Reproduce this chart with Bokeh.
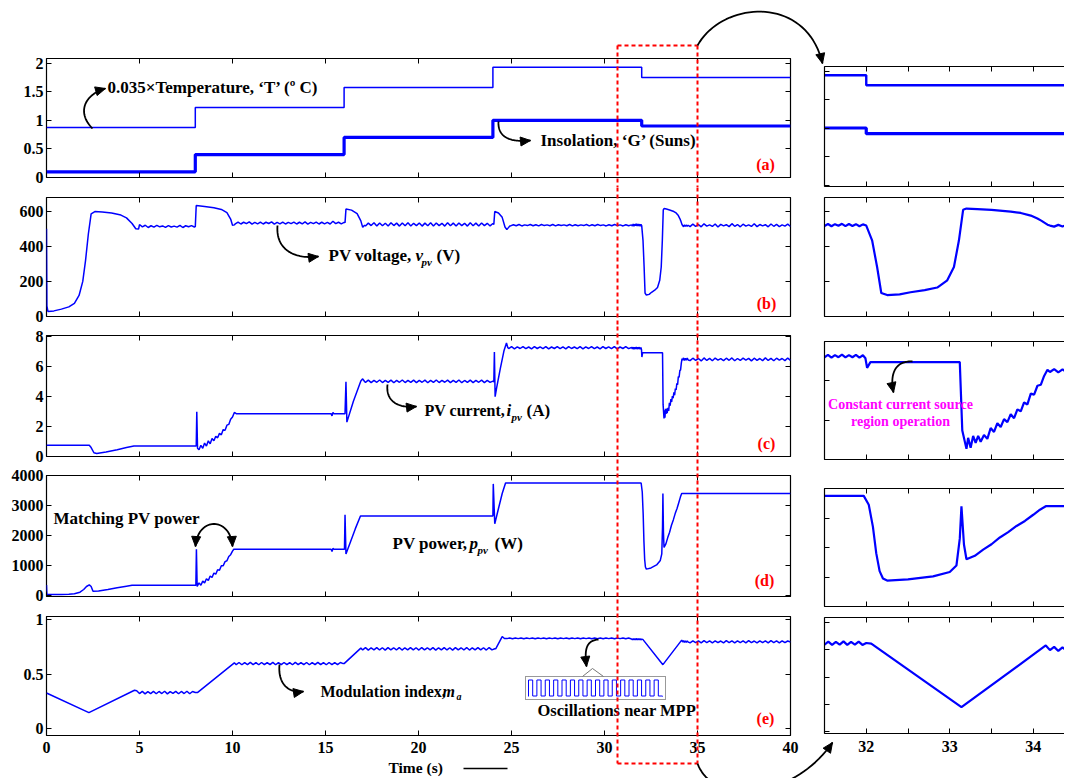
import numpy as np
from bokeh.plotting import figure
from bokeh.layouts import row, column
from bokeh.models import Range1d, LinearAxis, FixedTicker, Label
from bokeh.core.properties import value
from bokeh.embed import file_html
from bokeh.resources import INLINE

BLUE = "#0000FF"
SERIF = "Liberation Serif"

# ------------------------------------------------------------------ data
# (a) step inputs
t_steps = [0, 8, 16, 24, 32, 40]
temperature_C = [25, 35, 45, 55, 50]
insolation_suns = [0.1, 0.4, 0.7, 1.0, 0.9]
temp_scale = 0.035

# (b) PV voltage (V)
v_t1 = [0.0, 0.02, 0.08, 0.4, 0.8, 1.2, 1.5, 1.75, 1.95, 2.1, 2.25, 2.4, 2.6, 3.0, 3.5, 4.0, 4.3, 4.6, 4.8, 4.95]
v_1 = [500, 60, 28, 32, 42, 55, 75, 120, 200, 320, 470, 585, 598, 596, 590, 578, 562, 530, 500, 498]
v_r1 = [524, 511, 520, 507, 517, 509, 519, 511, 516, 508, 518, 510, 515, 509, 519, 507, 517, 511, 518, 510]
v_t2 = [8.0, 8.05, 8.5, 9.0, 9.4, 9.7, 9.9, 10.0, 10.1]
v_2 = [512, 632, 627, 619, 610, 592, 555, 520, 522]
v_r2 = [528, 538, 527, 537, 529, 539, 526, 536, 528, 538, 527, 537, 530, 539, 526, 536, 528, 538, 527, 536,
        529, 538, 527, 537, 528, 539, 526, 536, 529, 538, 527, 537, 528, 536, 527, 543, 529, 537, 528, 536]
v_t3 = [16.05, 16.1, 16.4, 16.7, 16.9, 17.0, 17.1]
v_3 = [535, 612, 606, 586, 545, 508, 520]
v_r3 = [516, 532, 518, 534, 515, 533, 517, 531, 516, 534, 518, 532, 515, 533, 517, 534, 516, 531, 518, 533,
        515, 532, 517, 534, 516, 533, 518, 531, 515, 534, 517, 532, 516, 533, 518, 531, 515, 534, 517, 532,
        516, 533, 518, 531, 516, 530]
v_t4 = [24.05, 24.1, 24.3, 24.5, 24.65, 24.75, 24.9]
v_4 = [525, 598, 590, 565, 510, 495, 515]
v_r4 = [516, 523, 517, 524, 516, 522, 518, 524, 517, 523, 516, 524, 518, 522, 517, 524, 516, 523, 518, 522,
        517, 524, 516, 523, 517, 522, 518, 524, 516, 523, 517, 524, 518, 522, 516, 523, 517, 524, 518, 522,
        516, 523, 517, 522]
v_r5 = [516, 527, 514, 526, 517, 528, 515, 527, 516, 526, 514, 525]
v_t5 = [32.0, 32.07, 32.13, 32.18, 32.25, 32.4, 32.53, 32.7, 32.85, 32.97, 33.05, 33.11, 33.16, 33.2,
        33.33, 33.5, 33.73, 33.85, 33.97, 34.05, 34.1, 34.17]
v_5 = [518, 434, 282, 134, 122, 126, 138, 150, 165, 206, 282, 434, 608, 615, 612, 607, 598, 590, 575, 558, 545, 523]
v_r6 = [518, 512, 522, 513, 521, 514, 520]
v_r7 = [512, 526, 514, 524, 511, 528, 515, 522, 513, 527, 510, 525, 516, 523, 512, 529, 514, 524, 511, 526,
        515, 522, 513, 528, 512, 524, 516, 523, 511, 527, 514, 525, 512, 522, 515, 526, 513]

# (c) PV current (A)
i_t1 = [0.0, 2.3, 2.4, 2.55, 2.7, 3.2, 3.8, 4.3, 4.7, 8.05, 8.08, 8.12, 8.2, 8.3, 8.4, 8.5, 8.6, 8.7, 8.8,
        8.9, 9.0, 9.1, 9.2, 9.3, 9.4, 9.5, 9.6, 9.7, 9.8, 9.9, 10.0, 10.1, 10.2, 15.3, 15.35, 15.4, 15.45,
        16.05, 16.1, 16.15, 16.5, 16.9, 17.0, 17.1]
i_1 = [0.75, 0.75, 0.6, 0.25, 0.2, 0.3, 0.45, 0.6, 0.7, 0.7, 3.0, 0.55, 0.45, 0.75, 0.55, 0.9, 0.7, 1.05, 0.85,
       1.2, 1.05, 1.35, 1.25, 1.55, 1.45, 1.8, 1.75, 2.1, 2.15, 2.5, 2.65, 2.95, 2.87, 2.87, 2.72, 2.95, 2.87,
       2.87, 5.0, 2.3, 3.7, 5.05, 5.2, 5.02]
i_r1 = [4.96, 5.11, 4.95, 5.10, 4.97, 5.12, 4.95, 5.09, 4.96, 5.11, 4.94, 5.10, 4.97, 5.12, 4.95, 5.09, 4.96,
        5.11, 4.95, 5.10, 4.97, 5.11, 4.94, 5.10, 4.96, 5.12, 4.95, 5.09, 4.97, 5.11, 4.95, 5.10, 4.96, 5.12,
        4.94, 5.09, 4.96, 5.11, 4.95, 5.10, 4.97, 5.11, 4.95, 5.09, 4.96, 5.05]
i_t2 = [24.05, 24.08, 24.12, 24.2, 24.4, 24.6, 24.73, 24.8]
i_2 = [5.0, 7.0, 4.0, 4.6, 5.9, 7.1, 7.6, 7.3]
i_r2 = [7.22, 7.35, 7.21, 7.34, 7.23, 7.36, 7.22, 7.33, 7.21, 7.35, 7.23, 7.34, 7.22, 7.36, 7.21, 7.33, 7.23,
        7.35, 7.22, 7.34, 7.21, 7.36, 7.23, 7.33, 7.22, 7.35, 7.21, 7.34, 7.23, 7.36, 7.22, 7.33, 7.21, 7.35,
        7.23, 7.34, 7.22, 7.36, 7.21, 7.33, 7.23, 7.35, 7.22, 7.30]
i_r3 = [7.2, 7.32, 7.18, 7.31, 7.2, 7.33, 7.19, 7.31, 7.2, 7.32, 7.18, 7.3]
i_t3 = [31.99, 32.01, 32.05, 33.12, 33.15, 33.2, 33.22, 33.25, 33.28, 33.31, 33.34, 33.37, 33.41, 33.45,
        33.49, 33.53, 33.57, 33.61, 33.65, 33.69, 33.73, 33.77, 33.81, 33.85, 33.89, 33.93, 33.97, 34.01,
        34.05, 34.09, 34.13, 34.17]
i_3 = [7.15, 6.66, 6.95, 6.95, 3.47, 2.54, 3.1, 2.6, 3.2, 2.85, 3.2, 2.9, 3.25, 3.05, 3.6, 3.4, 3.85, 3.65,
       4.05, 3.9, 4.3, 4.1, 4.55, 4.45, 4.9, 4.8, 5.35, 5.3, 5.75, 5.8, 6.25, 6.56]
i_r4 = [6.45, 6.6, 6.43, 6.58, 6.44, 6.59, 6.46]
i_r5 = [6.42, 6.58, 6.44, 6.56, 6.40, 6.60, 6.43, 6.57, 6.41, 6.59, 6.45, 6.55, 6.42, 6.58, 6.44, 6.60, 6.41,
        6.56, 6.43, 6.59, 6.45, 6.57, 6.40, 6.58, 6.44, 6.56, 6.42, 6.60, 6.43, 6.57, 6.41, 6.58, 6.45, 6.56,
        6.42, 6.59, 6.44]

# (d) PV power (W)
p_t1 = [0.0, 0.02, 0.3, 0.8, 1.2, 1.5, 1.8, 2.0, 2.15, 2.3, 2.4, 2.5, 2.8, 3.3, 3.8, 4.3, 4.6, 8.03, 8.06, 8.1]
p_1 = [350, 40, 30, 35, 45, 60, 110, 200, 300, 355, 300, 140, 150, 200, 260, 310, 340, 340, 1540, 300]
p_t2 = [8.2, 8.3, 8.4, 8.5, 8.6, 8.7, 8.8, 8.9, 9.0, 9.1, 9.2, 9.3, 9.4, 9.5, 9.6, 9.7, 9.8, 9.9, 10.0, 10.07]
p_2 = [420, 340, 480, 420, 560, 500, 650, 600, 750, 710, 860, 840, 990, 990, 1130, 1160, 1300, 1360, 1480, 1540]
p_t3 = [15.3, 15.35, 15.4, 15.45, 16.02, 16.05, 16.1, 16.3, 16.6, 16.88, 24.0, 24.02, 24.1, 24.3, 24.5, 24.68,
        31.97, 32.03, 32.08, 32.12, 32.16, 32.2, 32.25, 32.5, 32.8, 33.0, 33.08, 33.12, 33.14, 33.17, 33.2]
p_3 = [1540, 1470, 1570, 1540, 1540, 2690, 1380, 1720, 2220, 2650, 2650, 3720, 2390, 2900, 3400, 3750,
       3750, 3450, 2700, 1800, 1200, 950, 880, 920, 1020, 1170, 1390, 2300, 3400, 2100, 1600]
p_t4 = [33.3, 33.4, 33.5, 33.6, 33.7, 33.8, 33.9, 34.0, 34.08, 34.15, 40.0]
p_4 = [1720, 1930, 2110, 2340, 2520, 2730, 2900, 3110, 3280, 3400, 3400]

# (e) modulation index
m_t1 = [0.0, 2.28, 4.73]
m_1 = [0.33, 0.15, 0.355]
m_r1 = [0.35, 0.325, 0.345, 0.322, 0.343, 0.325, 0.345, 0.323, 0.344, 0.325, 0.346, 0.322, 0.343, 0.326,
        0.345, 0.323, 0.344, 0.325, 0.346, 0.323, 0.344, 0.335]
m_t2 = [8.13, 10.1]
m_2 = [0.335, 0.607]
m_r2 = [0.590, 0.610, 0.589, 0.609, 0.591, 0.611, 0.590, 0.609, 0.589, 0.610, 0.591, 0.609, 0.590, 0.611,
        0.589, 0.609, 0.591, 0.610, 0.590, 0.609, 0.589, 0.611, 0.591, 0.609, 0.590, 0.610, 0.589, 0.609,
        0.591, 0.611, 0.590, 0.609, 0.589, 0.610, 0.591, 0.609, 0.590, 0.610, 0.600]
m_t3 = [16.0, 16.9]
m_3 = [0.6, 0.742]
m_r3 = [0.725, 0.746, 0.724, 0.745, 0.726, 0.747, 0.725, 0.745, 0.724, 0.746, 0.726, 0.745, 0.725, 0.747,
        0.724, 0.745, 0.726, 0.746, 0.725, 0.745, 0.724, 0.747, 0.726, 0.745, 0.725, 0.746, 0.724, 0.745,
        0.726, 0.747, 0.725, 0.745, 0.724, 0.746, 0.726, 0.745, 0.725, 0.747, 0.724, 0.745, 0.726, 0.746,
        0.725, 0.745, 0.724, 0.747, 0.726, 0.736]
m_t4 = [24.15, 24.5, 24.62]
m_4 = [0.735, 0.848, 0.83]
m_r4 = [0.829, 0.835, 0.828, 0.834, 0.829, 0.835, 0.828, 0.834, 0.829, 0.835, 0.828, 0.834, 0.829, 0.835,
        0.828, 0.834, 0.829, 0.835, 0.828, 0.834, 0.829, 0.835, 0.828, 0.834, 0.829, 0.835, 0.828, 0.834,
        0.829, 0.835, 0.828, 0.834, 0.829, 0.835, 0.828, 0.834, 0.829, 0.835, 0.828, 0.834, 0.829, 0.835,
        0.828, 0.834, 0.826]
m_r5 = [0.818, 0.829, 0.817, 0.828, 0.818, 0.830, 0.817, 0.828, 0.818, 0.829, 0.817, 0.824]
m_t5 = [32.06, 33.14, 34.15]
m_5 = [0.822, 0.59, 0.815]
m_r6 = [0.798, 0.81, 0.795, 0.808, 0.796, 0.807, 0.797]
m_r7 = [0.791, 0.809, 0.792, 0.808, 0.790, 0.810, 0.793, 0.808, 0.791, 0.809, 0.792, 0.807, 0.790, 0.810,
        0.793, 0.808, 0.791, 0.809, 0.792, 0.808, 0.790, 0.810, 0.793, 0.807, 0.791, 0.809, 0.792, 0.808,
        0.790, 0.810, 0.793, 0.808, 0.791, 0.809, 0.792, 0.807, 0.798]

# inset: magnified oscillation pattern (high/low states)
osc_pattern = [1, 0] * 16

# ------------------------------------------------------------------ assembly
def ripple(t0, t1, vals):
    return list(np.linspace(t0, t1, len(vals))), list(vals)


def join(*parts):
    t, y = [], []
    for pt, py in parts:
        t += list(pt)
        y += list(py)
    return t, y


v_t, v_y = join((v_t1, v_1), ripple(5.0, 7.95, v_r1), (v_t2, v_2), ripple(10.15, 16.0, v_r2), (v_t3, v_3),
                ripple(17.15, 24.0, v_r3), (v_t4, v_4), ripple(24.95, 31.45, v_r4), ripple(31.5, 31.96, v_r5),
                (v_t5, v_5), ripple(34.2, 34.5, v_r6), ripple(34.6, 40.0, v_r7))
i_t, i_y = join((i_t1, i_1), ripple(17.15, 24.0, i_r1), (i_t2, i_2), ripple(24.85, 31.45, i_r2),
                ripple(31.5, 31.96, i_r3), (i_t3, i_3), ripple(34.2, 34.5, i_r4), ripple(34.6, 40.0, i_r5))
p_t, p_y = join((p_t1, p_1), (p_t2, p_2), (p_t3, p_3), (p_t4, p_4))
m_t, m_y = join((m_t1, m_1), ripple(4.85, 8.0, m_r1), (m_t2, m_2), ripple(10.2, 15.95, m_r2), (m_t3, m_3),
                ripple(17.0, 24.1, m_r3), (m_t4, m_4), ripple(24.75, 31.45, m_r4), ripple(31.5, 32.0, m_r5),
                (m_t5, m_5), ripple(34.2, 34.5, m_r6), ripple(34.6, 40.0, m_r7))
T_vals = [temp_scale * v for v in temperature_C]


# ------------------------------------------------------------------ panels
class Panel:
    def __init__(self, x0, y0, w, h, bl, br, bt, bb, xr, yr, outline):
        self.x0, self.y0, self.w, self.h = x0, y0, w, h
        self.fx0, self.fx1 = x0 + bl, x0 + w - br
        self.fy0, self.fy1 = y0 + bt, y0 + h - bb
        self.xr, self.yr = xr, yr
        self.fig = figure(width=w, height=h, x_range=Range1d(*xr), y_range=Range1d(*yr),
                          output_backend="svg", toolbar_location=None,
                          x_axis_location=None, y_axis_location=None,
                          min_border_left=bl, min_border_right=br, min_border_top=bt, min_border_bottom=bb,
                          outline_line_color="black" if outline else None, outline_line_width=1.2,
                          background_fill_color="white", border_fill_color="white")
        self.fig.xgrid.visible = False
        self.fig.ygrid.visible = False

    def dx(self, px):
        return self.xr[0] + (np.asarray(px, float) - self.fx0) / (self.fx1 - self.fx0) * (self.xr[1] - self.xr[0])

    def dy(self, py):
        return self.yr[1] - (np.asarray(py, float) - self.fy0) / (self.fy1 - self.fy0) * (self.yr[1] - self.yr[0])


def add_axis(p, loc, ticks, minor, labels=False, overrides=None, line=False, standoff=3):
    ax = LinearAxis(ticker=FixedTicker(ticks=ticks, minor_ticks=minor))
    ax.major_tick_in = 5
    ax.major_tick_out = 0
    ax.minor_tick_in = 5
    ax.minor_tick_out = 0
    ax.major_tick_line_color = "black"
    ax.minor_tick_line_color = "black"
    ax.major_tick_line_width = 1
    ax.axis_line_color = "black" if line else None
    ax.axis_line_width = 1.2
    if labels:
        ax.major_label_text_font = SERIF
        ax.major_label_text_font_style = "bold"
        ax.major_label_text_font_size = "16px"
        ax.major_label_text_color = "black"
        ax.major_label_standoff = standoff
        if overrides:
            ax.major_label_overrides = overrides
    else:
        ax.major_label_text_color = None
        ax.major_label_text_font_size = "0px"
        ax.major_label_standoff = 0
    p.add_layout(ax, loc)


LX = (0, 40)
RX = (31.5, 34.374)
LXT = [0, 5, 10, 15, 20, 25, 30, 35, 40]
RXT = [32, 33, 34]
RXM = [31.5, 32.5, 33.5]
half_over = {0: "0", 0.5: "0.5", 1: "1", 1.5: "1.5", 2: "2"}

left_specs = [
    (0, 187, 58, 10, (0, 2.08), [0, 0.5, 1, 1.5, 2], half_over),
    (187, 139, 10, 10, (0, 678), [0, 200, 400, 600], None),
    (326, 140, 9, 10, (0, 8.1), [0, 2, 4, 6, 8], None),
    (466, 140, 9, 10, (-33, 4000), [0, 1000, 2000, 3000, 4000], None),
    (606, 172, 10, 43, (-0.06, 1.032), [0, 0.5, 1], half_over),
]
right_specs = [
    (0, 191, 66, 5, (-0.026, 2.079), [0, 0.5, 1, 1.5, 2]),
    (191, 137, 6, 12, (0, 678), [0, 200, 400, 600]),
    (328, 146, 13, 15, (2, 8), [2, 4, 6, 8]),
    (474, 138, 14, 6, (0, 4000), [0, 1000, 2000, 3000, 4000]),
    (612, 166, 5, 45, (0.494, 0.917), [0.5, 0.6, 0.7, 0.8, 0.9]),
]

L, R = [], []
for k, (y0, h, bt, bb, yr, yt, ov) in enumerate(left_specs):
    P = Panel(0, y0, 808, h, 46, 18, bt, bb, LX, yr, True)
    add_axis(P.fig, "left", yt, [], labels=True, overrides=ov, standoff=3)
    add_axis(P.fig, "below", LXT, [], labels=(k == 4), standoff=6)
    add_axis(P.fig, "above", LXT, [])
    add_axis(P.fig, "right", yt, [])
    L.append(P)
for k, (y0, h, bt, bb, yr, yt) in enumerate(right_specs):
    P = Panel(808, y0, 256, h, 16, 0, bt, bb, RX, yr, False)
    add_axis(P.fig, "left", yt, [], line=True)
    add_axis(P.fig, "below", RXT, RXM, labels=(k == 4), line=True, standoff=7)
    add_axis(P.fig, "above", RXT, RXM, line=True)
    R.append(P)

# ------------------------------------------------------------------ series
for P, lw in ((L[0], (1.5, 3.2)), (R[0], (2.4, 3.2))):
    P.fig.step(t_steps, T_vals + [T_vals[-1]], mode="after", line_color=BLUE, line_width=lw[0])
    P.fig.step(t_steps, insolation_suns + [insolation_suns[-1]], mode="after", line_color=BLUE, line_width=lw[1])
for k, (t, y) in enumerate([(v_t, v_y), (i_t, i_y), (p_t, p_y), (m_t, m_y)]):
    L[k + 1].fig.line(t, y, line_color=BLUE, line_width=1.5)
    R[k + 1].fig.line(t, y, line_color=BLUE, line_width=2.2)


# ------------------------------------------------------------------ annotations
def label(P, px, py, text, size="17px", color="black", style="bold", align="left"):
    P.fig.add_layout(Label(x=float(P.dx(px)), y=float(P.dy(py)), text=text, text_font=SERIF,
                           text_font_size=size, text_font_style=style, text_color=color,
                           text_align=align, text_baseline="middle"))


def free_text(P, px, py, text, size="17px"):
    P.fig.text(x=[float(P.dx(px))], y=[float(P.dy(py))], text=[text], text_font=value(SERIF),
               text_font_size=value(size), text_font_style="bold", text_color="black",
               text_align="left", text_baseline="middle", level="overlay")


def bez(pts, n=40):
    s = np.linspace(0, 1, n)[:, None]
    q = np.array(pts, float)
    c = (1 - s) ** 3 * q[0] + 3 * (1 - s) ** 2 * s * q[1] + 3 * (1 - s) * s ** 2 * q[2] + s ** 3 * q[3]
    return c[:, 0], c[:, 1]


def head(P, tip, frm, length=10, half=4.5):
    tip = np.array(tip, float)
    d = tip - np.array(frm, float)
    d /= np.hypot(*d)
    nrm = np.array([-d[1], d[0]])
    base = tip - length * d
    pts = [tip, base + half * nrm, base - half * nrm]
    P.fig.patch(P.dx([q[0] for q in pts]), P.dy([q[1] for q in pts]), fill_color="black",
                line_color="black", line_width=1, level="overlay")


def curve(P, pts, heads=("end",), width=1.8, color="black"):
    x, y = bez(pts)
    P.fig.line(P.dx(x), P.dy(y), line_color=color, line_width=width, level="overlay")
    if "end" in heads:
        head(P, pts[3], pts[2])
    if "start" in heads:
        head(P, pts[0], pts[1])


def seg(P, xs, ys, color="black", width=1.5, dash="solid"):
    P.fig.line(P.dx(xs), P.dy(ys), line_color=color, line_width=width, line_dash=dash, level="overlay")


# (a)
label(L[0], 107, 87, "0.035×Temperature, ‘T’ (º C)")
curve(L[0], [(92, 128), (76, 112), (84, 94), (105, 88)])
label(L[0], 540, 140, "Insolation, ‘G’ (Suns)")
curve(L[0], [(498, 121), (497, 137), (510, 142), (530, 140)])
# (b)
label(L[1], 328, 255, "PV voltage,")
label(L[1], 415, 255, "v", style="bold italic")
label(L[1], 421, 261, "pv", size="11px", style="bold italic")
label(L[1], 436, 255, "(V)")
curve(L[1], [(277, 225), (275, 250), (295, 259), (318, 256)])
# (c)
label(L[2], 424, 410, "PV current,", size="16px")
label(L[2], 506, 410, "i", style="bold italic")
label(L[2], 511, 416, "pv", size="11px", style="bold italic")
label(L[2], 526, 410, "(A)")
curve(L[2], [(387, 384), (385, 401), (398, 408), (416, 406)])
# (d)
label(L[3], 53, 518, "Matching PV power")
curve(L[3], [(195, 546), (197, 516), (230, 516), (232, 546)], heads=("start", "end"))
label(L[3], 392, 543, "PV power,")
label(L[3], 469, 543, "p", style="bold italic")
label(L[3], 477, 549, "pv", size="11px", style="bold italic")
label(L[3], 494, 543, "(W)")
# (e)
label(L[4], 320, 691, "Modulation index,", size="16px")
label(L[4], 442, 691, "m", size="16px", style="bold italic")
label(L[4], 456, 696, "a", size="10px", style="bold italic")
curve(L[4], [(279, 664), (277, 685), (290, 693), (303, 691)])
label(L[4], 537, 710, "Oscillations near MPP", size="16.5px")
curve(L[4], [(598, 639), (585, 640), (584, 650), (586, 666)])
# inset box with magnified oscillation
bx0, bx1, by0, by1 = 525, 665, 676, 699
seg(L[4], [bx0, bx1, bx1, bx0, bx0], [by0, by0, by1, by1, by0], color="#333333", width=1, dash="1 1")
seg(L[4], [582, 592, 603], [676, 668, 676], color="#777777", width=1)
per = (662 - 528) / (len(osc_pattern) / 2)
wx, wy = [528], [696]
for k, st in enumerate(osc_pattern):
    x0 = 528 + k * per / 2
    yv = 679.5 if st else 695.5
    wx += [x0, x0 + per / 2]
    wy += [yv, yv]
wx.append(662)
wy.append(696)
L[4].fig.line(L[4].dx(wx), L[4].dy(wy), line_color=BLUE, line_width=1)
# panel tags
for P, px, py, tag in ((L[0], 765, 164, "(a)"), (L[1], 766, 303, "(b)"), (L[2], 766, 443, "(c)"),
                       (L[3], 764, 580, "(d)"), (L[4], 765, 718, "(e)")):
    label(P, px, py, tag, size="16px", color="#FF0000", align="center")
# time label below the axis
free_text(L[4], 388, 767, "Time (s)", size="15.5px")
seg(L[4], [463, 507], [768, 768], width=1.5)
# right (c') annotation
label(R[2], 900, 404, "Constant current source", size="14px", color="#FF00FF", align="center")
label(R[2], 900, 421, "region operation", size="14px", color="#FF00FF", align="center")
curve(R[2], [(912, 361), (895, 360), (889, 373), (893, 392)])

# red dashed zoom window, drawn piecewise over the stacked left panels
RX0, RX1, RY0, RY1 = 617, 697, 45, 763
for P in L:
    top, bot = max(RY0, P.y0), min(RY1, P.y0 + P.h)
    for xx in (RX0, RX1):
        seg(P, [xx, xx], [top, bot], color="#FF0000", width=2, dash="4 3")
    if P.y0 <= RY0 <= P.y0 + P.h:
        seg(P, [RX0, RX1], [RY0, RY0], color="#FF0000", width=2, dash="4 3")
    if P.y0 <= RY1 <= P.y0 + P.h:
        seg(P, [RX0, RX1], [RY1, RY1], color="#FF0000", width=2, dash="4 3")

# curved arrows linking the window to the zoomed panels
top_arc = [(697, 45), (722, 0), (806, -6), (822, 63)]
bot_arc = [(697, 763), (712, 805), (792, 800), (832, 742)]
for P in (L[0], R[0]):
    x, y = bez(top_arc)
    P.fig.line(P.dx(x), P.dy(y), line_color="black", line_width=1.8, level="overlay")
head(R[0], top_arc[3], top_arc[2])
for P in (L[4], R[4]):
    x, y = bez(bot_arc)
    P.fig.line(P.dx(x), P.dy(y), line_color="black", line_width=1.8, level="overlay")
head(R[4], bot_arc[3], bot_arc[2])

layout = row(column([P.fig for P in L], spacing=0), column([P.fig for P in R], spacing=0), spacing=0)
open("out.html", "w", encoding="utf-8").write(file_html(layout, INLINE))
